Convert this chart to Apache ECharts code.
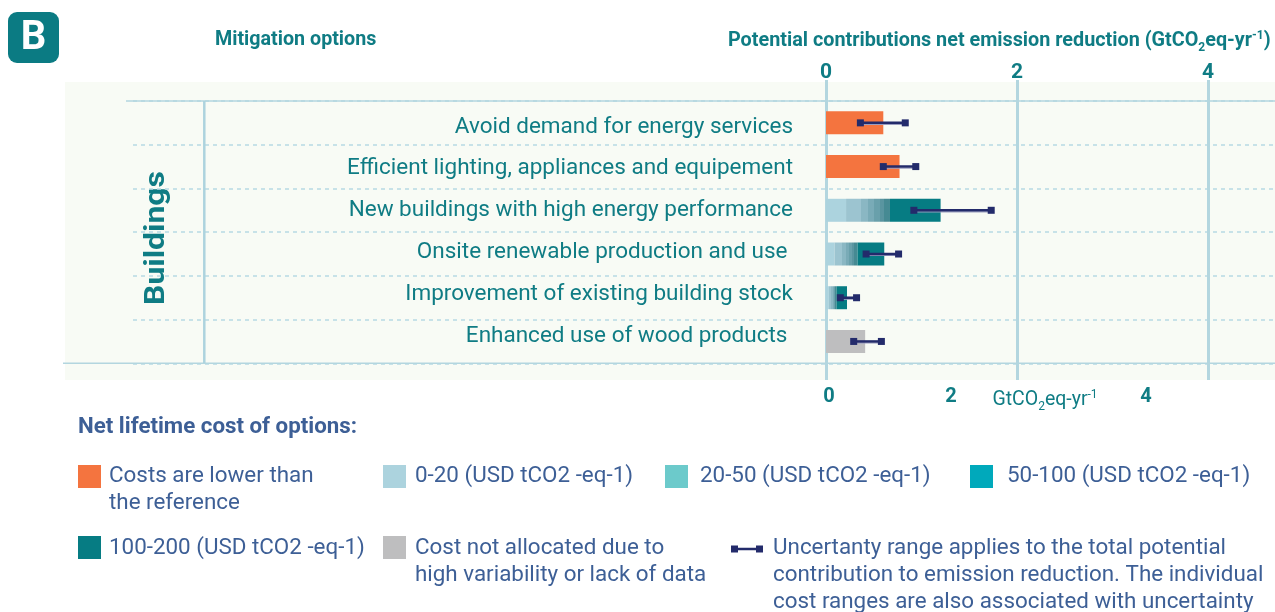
<!DOCTYPE html>
<html><head><meta charset="utf-8">
<script src="https://cdn.jsdelivr.net/npm/echarts@6/dist/echarts.min.js"></script>
<style>html,body{margin:0;padding:0;background:#fff}#c{width:1275px;height:612px}</style>
</head><body><div id="c"></div>
<script>
// ---------- data ----------
const categories = [
  'Avoid demand for energy services',
  'Efficient lighting, appliances and equipement',
  'New buildings with high energy performance',
  'Onsite renewable production and use ',
  'Improvement of existing building stock',
  'Enhanced use of wood products '
];
const lowerThanReference = [0.60, 0.77, 0, 0, 0, 0];
const cost0to20        = [0, 0, 0.21, 0.09, 0.03, 0];
const costTransition   = [0, 0, 0.46, 0.24, 0.08, 0];
const cost100to200     = [0, 0, 0.53, 0.28, 0.11, 0];
const notAllocated     = [0, 0, 0, 0, 0, 0.41];
const uncertaintyLow   = [0.36, 0.60, 0.92, 0.42, 0.15, 0.29];
const uncertaintyHigh  = [0.83, 0.94, 1.73, 0.76, 0.32, 0.58];
const bottomTickLabels = ['0', '2', '4'];
const legendLabels = [
  'Costs are lower than\nthe reference',
  '0-20 (USD tCO2 -eq-1)',
  '20-50 (USD tCO2 -eq-1)',
  '50-100 (USD tCO2 -eq-1)',
  '100-200 (USD tCO2 -eq-1)',
  'Cost not allocated due to\nhigh variability or lack of data',
  'Uncertanty range applies to the total potential\ncontribution to emission reduction. The individual\ncost ranges are also associated with uncertainty'
];

// ---------- styles ----------
const TEAL = '#0f7c84', LEG = '#3d5f96', NAVY = '#232b6b';
const ORANGE = '#f4743f', C0 = '#acd3de', C20 = '#6ccacb', C50 = '#00a9bb', C100 = '#067c83', GRAY = '#bebebf';
const LINE = '#b3d6df';
const FONT = 'Roboto';
const PX = 95.5, X0 = 826;

const stepColors = ['#9cc4d0', '#8ab7c3', '#79abb7', '#69a0ab', '#5a95a0', '#468a93'];
const stepBounds = [0, 0.34, 0.5, 0.636, 0.77, 0.864, 1];
const stops = [];
stepColors.forEach((c, i) => { stops.push({offset: stepBounds[i], color: c}); stops.push({offset: stepBounds[i+1], color: c}); });
const transitionFill = new echarts.graphic.LinearGradient(0, 0, 1, 0, stops);

const chart = echarts.init(document.getElementById('c'), null, {renderer: 'canvas'});

function barSeries(name, data, color) {
  return {name, type: 'bar', stack: 'total', xAxisIndex: 1, yAxisIndex: 1, data,
    barWidth: 23, itemStyle: {color}, silent: true, z: 3};
}

const legendPos = [
  {sx: 78, sy: 465, tx: 109, ty: 463},
  {sx: 383, sy: 465, tx: 415, ty: 463},
  {sx: 665, sy: 465, tx: 700, ty: 463},
  {sx: 970, sy: 465, tx: 1007, ty: 463},
  {sx: 78, sy: 536, tx: 109, ty: 534.5},
  {sx: 383, sy: 536, tx: 415, ty: 534.5},
  {sx: null, sy: 549, tx: 773, ty: 534.5}
];
const legendColors = [ORANGE, C0, C20, C50, C100, GRAY, null];
const legendGraphics = [];
legendLabels.forEach((lab, i) => {
  const p = legendPos[i];
  if (legendColors[i]) {
    legendGraphics.push({type: 'rect', shape: {x: p.sx, y: p.sy, width: 23, height: 23}, style: {fill: legendColors[i]}});
  } else {
    legendGraphics.push({type: 'line', shape: {x1: 734, y1: 549, x2: 760, y2: 549}, style: {stroke: NAVY, lineWidth: 2.5}});
    legendGraphics.push({type: 'rect', shape: {x: 731, y: 545.5, width: 7, height: 7}, style: {fill: NAVY}});
    legendGraphics.push({type: 'rect', shape: {x: 756, y: 545.5, width: 7, height: 7}, style: {fill: NAVY}});
  }
  legendGraphics.push({type: 'text', x: p.tx, y: p.ty, style: {text: lab, fill: LEG, fontSize: 22.4, fontFamily: FONT, lineHeight: 27, verticalAlign: 'top', align: 'left'}});
});

const richTitle = {
  b: {fontSize: 19.8, fontWeight: 'bold', fontFamily: FONT, fill: TEAL},
  s: {fontSize: 12, fontWeight: 'bold', fontFamily: FONT, fill: TEAL, padding: [13, 0, 0, 0]},
  p: {fontSize: 12, fontWeight: 'bold', fontFamily: FONT, fill: TEAL, padding: [0, 0, 10, 0]}
};
const richUnit = {
  b: {fontSize: 19.5, fontFamily: FONT, fill: TEAL},
  s: {fontSize: 12, fontFamily: FONT, fill: TEAL, padding: [13, 0, 0, 0]},
  p: {fontSize: 12, fontFamily: FONT, fill: TEAL, padding: [0, 0, 10, 0]}
};

const option = {
  animation: false,
  backgroundColor: '#ffffff',
  textStyle: {fontFamily: FONT},
  graphic: [
    {type: 'rect', z: -10, shape: {x: 65, y: 82, width: 1210, height: 298}, style: {fill: '#f8fbf5'}},
    {type: 'line', z: 10, shape: {x1: 126, y1: 101, x2: 1275, y2: 101}, style: {stroke: LINE, lineWidth: 1.5}},
    {type: 'line', z: 10, shape: {x1: 63, y1: 363.3, x2: 1275, y2: 363.3}, style: {stroke: LINE, lineWidth: 1.5}},
    {type: 'line', z: 10, shape: {x1: 204.3, y1: 101, x2: 204.3, y2: 363}, style: {stroke: '#add3de', lineWidth: 2.5}},
    {type: 'rect', shape: {x: 8, y: 12, width: 51, height: 51, r: 9}, style: {fill: '#0b7b83'}},
    {type: 'text', x: 33.5, y: 39, style: {text: 'B', fill: '#fff', fontSize: 40, fontWeight: 'bold', fontFamily: FONT, align: 'center', verticalAlign: 'middle'}},
    {type: 'text', x: 215, y: 40, style: {text: 'Mitigation options', fill: TEAL, fontSize: 19.7, fontWeight: 'bold', fontFamily: FONT, align: 'left', verticalAlign: 'middle'}},
    {type: 'text', x: 728, y: 41, style: {text: '{b|Potential contributions net emission reduction (GtCO}{s|2}{b|eq-yr}{p|-1}{b|)}', rich: richTitle, align: 'left', verticalAlign: 'middle'}},
    {type: 'text', x: 157, y: 238, rotation: Math.PI / 2, scaleX: 1.18, style: {text: 'Buildings', fill: TEAL, fontSize: 27, fontWeight: 'bold', fontFamily: FONT, align: 'center', verticalAlign: 'middle'}},
    {type: 'text', x: 1045, y: 400, style: {text: '{b|GtCO}{s|2}{b|eq-yr}{p|-1}', rich: richUnit, align: 'center', verticalAlign: 'middle'}},
    {type: 'text', x: 78, y: 427, style: {text: 'Net lifetime cost of options:', fill: LEG, fontSize: 22.3, fontWeight: 'bold', fontFamily: FONT, align: 'left', verticalAlign: 'middle'}}
  ].concat(legendGraphics),
  grid: [
    {left: X0, top: 80, width: 4 * PX, height: 300, containLabel: false, outerBoundsMode: 'none'},
    {left: X0, right: 0, top: 101, height: 262.3, containLabel: false, outerBoundsMode: 'none'},
    {left: 133, right: 0, top: 101, height: 262.3, containLabel: false, outerBoundsMode: 'none'},
    {left: X0, right: 0, top: 106, height: 251, containLabel: false, outerBoundsMode: 'none'}
  ],
  xAxis: [
    {gridIndex: 0, type: 'value', position: 'top', min: 0, max: 4, interval: 2,
      axisLine: {show: false, onZero: false}, axisTick: {show: false},
      axisLabel: {color: TEAL, fontSize: 21, fontWeight: 'bold', fontFamily: FONT, margin: -3},
      splitLine: {show: true, lineStyle: {color: LINE, width: 3}}},
    {gridIndex: 1, type: 'value', show: false, min: 0, max: (1275 - X0) / PX,
      splitLine: {show: false}},
    {gridIndex: 0, type: 'value', position: 'bottom', min: 0, max: 4,
      axisLine: {show: false, onZero: false}, axisTick: {show: false}, splitLine: {show: false},
      axisLabel: {color: TEAL, fontSize: 20, fontWeight: 'bold', fontFamily: FONT, margin: 7,
        customValues: [3 / PX, 125 / PX, 320 / PX],
        formatter: function (v) {
          const at = [3 / PX, 125 / PX, 320 / PX];
          let best = 0;
          at.forEach((a, i) => { if (Math.abs(a - v) < Math.abs(at[best] - v)) best = i; });
          return bottomTickLabels[best];
        }}},
    {gridIndex: 2, type: 'value', show: false, min: 0, max: 1, splitLine: {show: false}},
    {gridIndex: 3, type: 'value', show: false, min: 0, max: 1, splitLine: {show: false}}
  ],
  yAxis: [
    {gridIndex: 0, type: 'value', show: false, min: 0, max: 1},
    {gridIndex: 1, type: 'category', inverse: true, data: categories,
      axisLine: {show: false}, axisTick: {show: false}, axisLabel: {show: false},
      splitLine: {show: false}},
    {gridIndex: 2, type: 'category', inverse: true, data: categories,
      axisLine: {show: false}, axisTick: {show: false}, axisLabel: {show: false},
      splitLine: {show: true, interval: 0, lineStyle: {color: '#b6dae3', width: 1.5, type: [4, 4]}}},
    {gridIndex: 3, type: 'category', inverse: true, data: categories,
      axisLine: {show: false, onZero: false}, axisTick: {show: false}, splitLine: {show: false},
      axisLabel: {interval: 0, color: TEAL, fontSize: 22.5, fontFamily: FONT, margin: 33}}
  ],
  series: [
    barSeries('Costs are lower than the reference', lowerThanReference, ORANGE),
    barSeries('0-20 (USD tCO2 -eq-1)', cost0to20, C0),
    barSeries('20-100 transition', costTransition, transitionFill),
    barSeries('100-200 (USD tCO2 -eq-1)', cost100to200, C100),
    barSeries('Cost not allocated', notAllocated, GRAY),
    {name: 'Uncertainty range', type: 'custom', xAxisIndex: 1, yAxisIndex: 1, z: 6, silent: true,
      data: categories.map((c, i) => [i, uncertaintyLow[i], uncertaintyHigh[i]]),
      encode: {y: 0, x: [1, 2]},
      renderItem: function (params, api) {
        const y = api.value(0);
        const a = api.coord([api.value(1), y]);
        const b = api.coord([api.value(2), y]);
        const s = 7;
        return {type: 'group', children: [
          {type: 'line', shape: {x1: a[0], y1: a[1] + 1.5, x2: b[0], y2: b[1] + 1.5}, style: {stroke: '#9a9dc0', lineWidth: 1.2}},
          {type: 'line', shape: {x1: a[0], y1: a[1], x2: b[0], y2: b[1]}, style: {stroke: NAVY, lineWidth: 2.5}},
          {type: 'rect', shape: {x: a[0] - s / 2, y: a[1] - s / 2, width: s, height: s}, style: {fill: NAVY}},
          {type: 'rect', shape: {x: b[0] - s / 2, y: b[1] - s / 2, width: s, height: s}, style: {fill: NAVY}}
        ]};
      }}
  ]
};
chart.setOption(option);
</script>
</body></html>
